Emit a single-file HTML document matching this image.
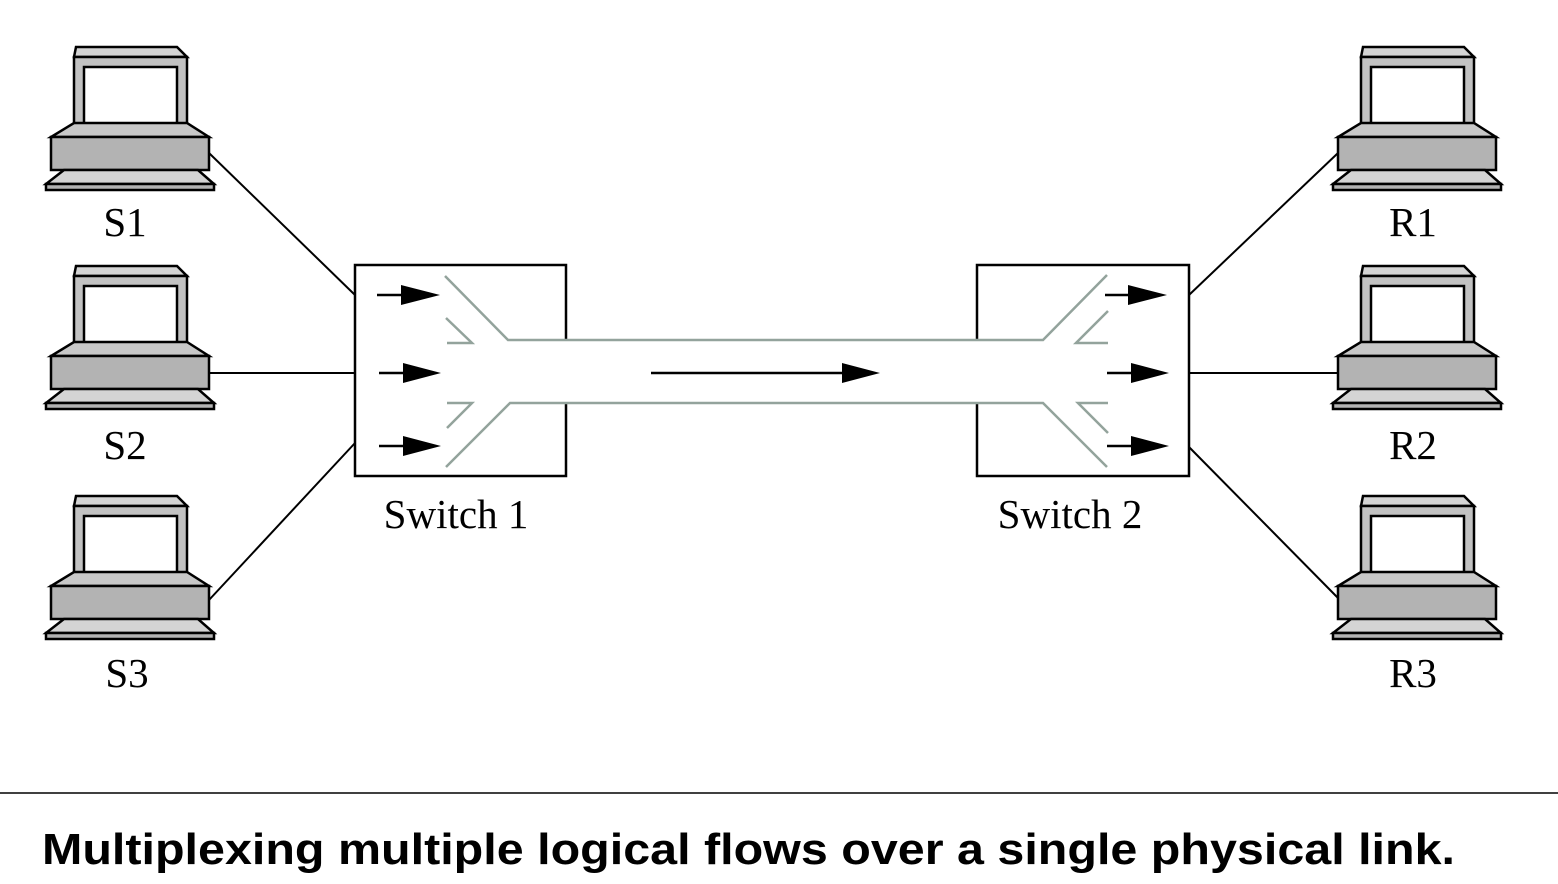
<!DOCTYPE html>
<html><head><meta charset="utf-8"><style>
html,body{margin:0;padding:0;background:#fff;width:1558px;height:884px;overflow:hidden}
svg{display:block}
.lab{font-family:"Liberation Serif",serif;font-size:41px;fill:#000}
</style></head><body>
<svg width="1558" height="884" viewBox="0 0 1558 884">
<defs>
<g id="pc">
<polygon points="76,47 177,47 187,57 74,57" fill="#d4d4d4" stroke="#000" stroke-width="2.5"/>
<rect x="74" y="57" width="113" height="76" fill="#c2c2c2" stroke="#000" stroke-width="2.5"/>
<rect x="84" y="67" width="93" height="57" fill="#fff" stroke="#000" stroke-width="2.5"/>
<polygon points="74,123 187,123 209,137 51,137" fill="#c8c8c8" stroke="#000" stroke-width="2.5"/>
<rect x="51" y="137" width="158" height="33" fill="#b3b3b3" stroke="#000" stroke-width="2.5"/>
<polygon points="64,170 198,170 214,184 46,184" fill="#d4d4d4" stroke="#000" stroke-width="2.5"/>
<rect x="46" y="184" width="168" height="6" fill="#b3b3b3" stroke="#000" stroke-width="2.5"/>
</g>
</defs>
<g stroke="#000" stroke-width="2" fill="none">
<line x1="209" y1="153" x2="355" y2="295"/>
<line x1="209" y1="373" x2="355" y2="373"/>
<line x1="209" y1="600" x2="355" y2="443"/>
<line x1="1189" y1="295" x2="1338" y2="153"/>
<line x1="1189" y1="373" x2="1338" y2="373"/>
<line x1="1189" y1="447" x2="1338" y2="598"/>
</g>
<use href="#pc"/>
<use href="#pc" transform="translate(0,219)"/>
<use href="#pc" transform="translate(0,449)"/>
<use href="#pc" transform="translate(1287,0)"/>
<use href="#pc" transform="translate(1287,219)"/>
<use href="#pc" transform="translate(1287,449)"/>
<text class="lab" x="125" y="236" text-anchor="middle">S1</text>
<text class="lab" x="125" y="459" text-anchor="middle">S2</text>
<text class="lab" x="127" y="687" text-anchor="middle">S3</text>
<text class="lab" x="1413" y="236" text-anchor="middle">R1</text>
<text class="lab" x="1413" y="459" text-anchor="middle">R2</text>
<text class="lab" x="1413" y="687" text-anchor="middle">R3</text>
<g>
<path d="M566,340 L566,265 L355,265 L355,476 L566,476 L566,403" fill="none" stroke="#000" stroke-width="2.5"/>
</g>
<g>
<path d="M977,340 L977,265 L1189,265 L1189,476 L977,476 L977,403" fill="none" stroke="#000" stroke-width="2.5"/>
</g>
<g stroke="#93a39c" stroke-width="2.5" fill="none">
<path d="M445,276 L508,340 L1043,340 L1107,275"/>
<path d="M446,467 L510,403 L1043,403 L1107,467"/>
<path d="M446,318 L472,343 L447,343"/>
<path d="M447,403 L472,403 L447,428"/>
<path d="M1108,311 L1076,343 L1108,343"/>
<path d="M1108,403 L1078,403 L1108,433"/>
</g>
<g>
<g stroke="#000" stroke-width="2.5">
<line x1="377" y1="295" x2="405" y2="295"/>
<line x1="379" y1="373" x2="405" y2="373"/>
<line x1="379" y1="446" x2="405" y2="446"/>
<line x1="1105" y1="295" x2="1132" y2="295"/>
<line x1="1107" y1="373" x2="1134" y2="373"/>
<line x1="1107" y1="446" x2="1134" y2="446"/>
<line x1="651" y1="373" x2="845" y2="373"/>
</g>
<g fill="#000">
<polygon points="401,285 440,295 401,305"/>
<polygon points="403,363 441,373 403,383"/>
<polygon points="403,436 441,446 403,456"/>
<polygon points="1128,285 1167,295 1128,305"/>
<polygon points="1131,363 1169,373 1131,383"/>
<polygon points="1131,436 1169,446 1131,456"/>
<polygon points="842,363 880,373 842,383"/>
</g>
</g>
<text class="lab" x="456" y="528" text-anchor="middle">Switch 1</text>
<text class="lab" x="1070" y="528" text-anchor="middle">Switch 2</text>
<line x1="0" y1="793" x2="1558" y2="793" stroke="#000" stroke-width="1.5"/>
<text x="42" y="864" font-family="Liberation Sans, sans-serif" font-weight="bold" font-size="44" textLength="1413" lengthAdjust="spacingAndGlyphs">Multiplexing multiple logical flows over a single physical link.</text>
</svg>
</body></html>
